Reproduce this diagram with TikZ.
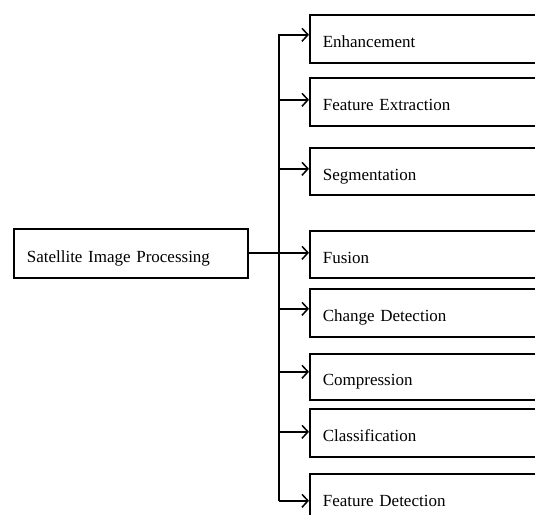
\documentclass[tikz,border=0pt]{standalone}
\usepackage{fontspec}
\setmainfont{Liberation Serif}
\usetikzlibrary{arrows.meta}
\begin{document}
\begin{tikzpicture}[x=1pt,y=-1pt,
  lw/.style={line width=1.6pt},
  boxnode/.style={draw, lw, anchor=north west, minimum height=48pt, inner xsep=13pt, inner ysep=0pt,
    text height=20pt, text depth=2pt, align=left, font=\fontsize{17}{19}\selectfont},
  leftbox/.style={boxnode, text width=208pt, minimum height=49pt},
  rightbox/.style={boxnode, text width=232pt},
  arr/.style={lw, -{Straight Barb[length=6pt,width=13pt,line width=1.5pt]}}
]
\clip (0,0) rectangle (535,514);
\node[leftbox] (sat) at (13,228) {Satellite Image Processing};
\node[rightbox] (enh) at (309,14) {Enhancement};
\node[rightbox] (fex) at (309,77) {Feature Extraction};
\node[rightbox, minimum height=47pt] (seg) at (309,147) {Segmentation};
\node[rightbox, minimum height=47pt] (fus) at (309,230) {Fusion};
\node[rightbox] (chd) at (309,288) {Change Detection};
\node[rightbox, minimum height=46pt] (cmp) at (309,353) {Compression};
\node[rightbox] (cls) at (309,408) {Classification};
\node[rightbox] (fdt) at (309,473) {Feature Detection};
\coordinate (trunk) at (279,0);
\draw[lw, line join=miter] ([yshift=4pt]enh.west) ++(-27pt,0) -| ([yshift=-3pt]fdt.west -| trunk);
\draw[arr] ([yshift=0.5pt]sat.east) -- ([yshift=0.5pt]sat.east -| fus.west);
\draw[arr] ([yshift=4pt]enh.west -| trunk) -- ([yshift=4pt]enh.west);
\draw[arr] ([yshift=2pt]fex.west -| trunk) -- ([yshift=2pt]fex.west);
\draw[arr] ([yshift=2.5pt]seg.west -| trunk) -- ([yshift=2.5pt]seg.west);
\draw[arr] ([yshift=4pt]chd.west -| trunk) -- ([yshift=4pt]chd.west);
\draw[arr] ([yshift=5pt]cmp.west -| trunk) -- ([yshift=5pt]cmp.west);
\draw[arr] ([yshift=1pt]cls.west -| trunk) -- ([yshift=1pt]cls.west);
\draw[arr] ([yshift=-3pt]fdt.west -| trunk) -- ([yshift=-3pt]fdt.west);
\end{tikzpicture}
\end{document}
